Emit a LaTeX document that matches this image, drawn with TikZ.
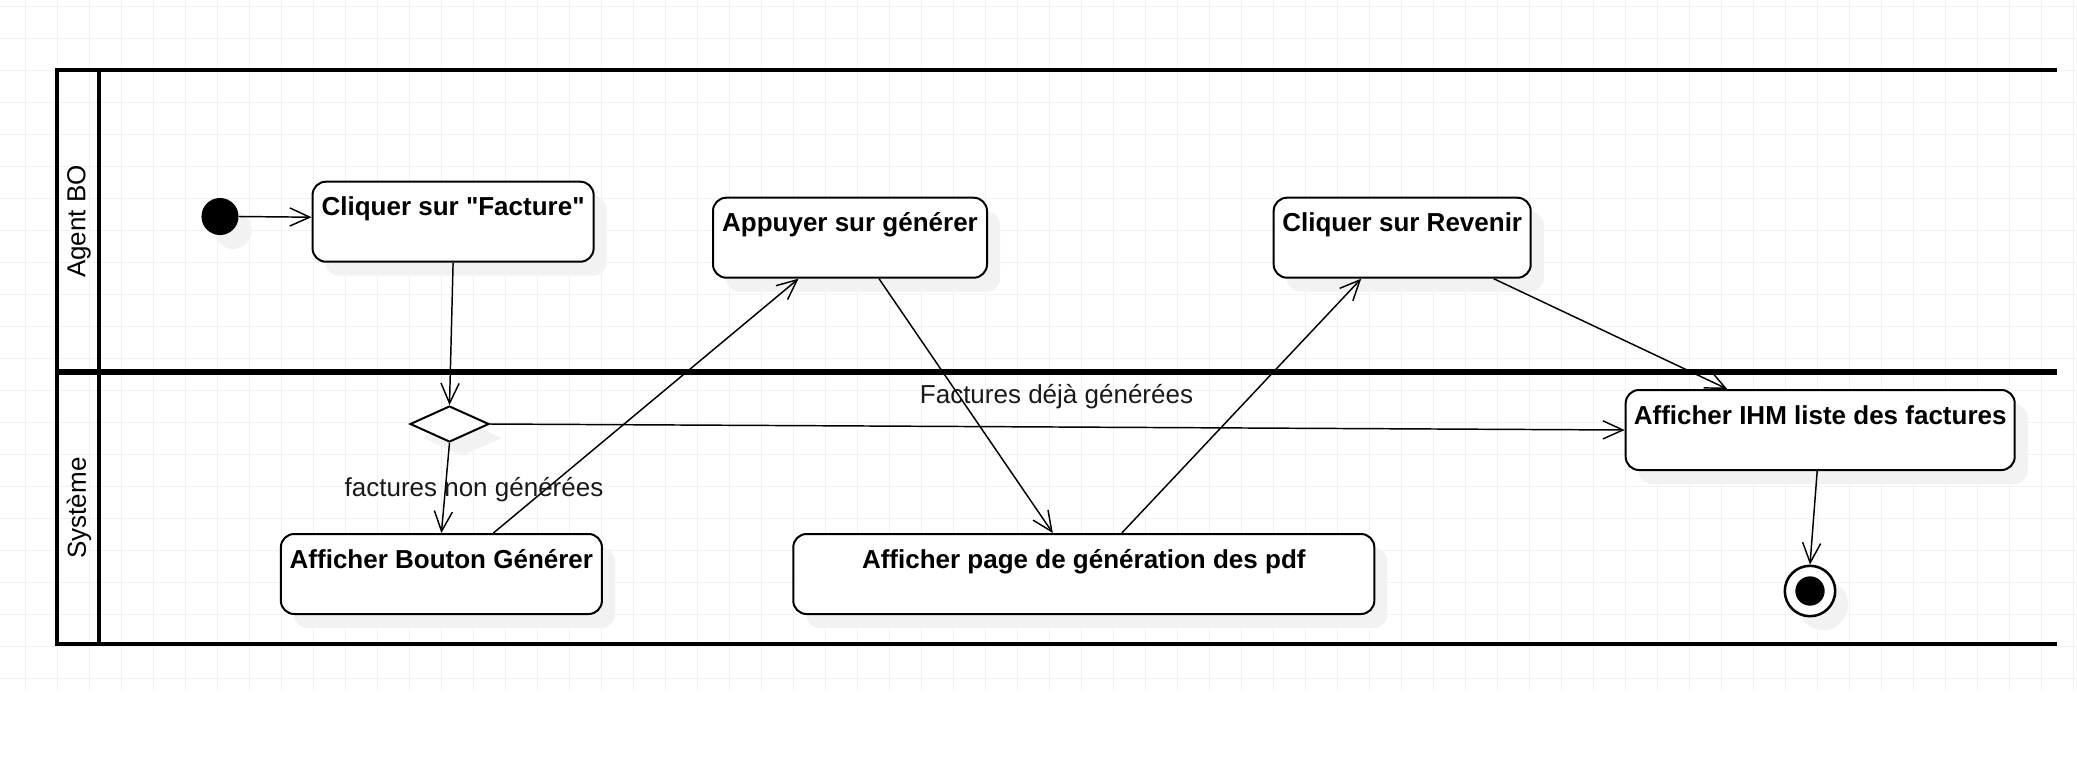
\documentclass[tikz,border=0pt]{standalone}
\usepackage{fontspec}
\setmainfont{Liberation Sans}[Ligatures=TeXOff]
\usetikzlibrary{arrows.meta,calc,shapes.geometric,shadows}
\begin{document}
\begin{tikzpicture}[x=0.375pt,y=-0.375pt,
  font=\fontsize{9.75}{11.7}\selectfont,
  shad/.style={general shadow={fill=black!5,shadow xshift=4.9pt,shadow yshift=-5.25pt}},
  actbox/.style={draw=black,line width=0.75pt,rounded corners=5pt,fill=white,shad,
    inner xsep=0pt,inner ysep=0pt,text height=12.75pt,text depth=17.25pt,
    font=\fontsize{9.75}{11.7}\selectfont\bfseries},
  decis/.style={diamond,draw=black,line width=0.75pt,fill=white,shad,inner sep=0pt,
    minimum width=29.6pt,minimum height=13.5pt},
  startdot/.style={circle,fill=black,inner sep=0pt,minimum size=13.9pt,shad},
  endring/.style={circle,draw=black,line width=0.95pt,fill=white,inner sep=0pt,minimum size=18.9pt,shad},
  enddot/.style={circle,fill=black,inner sep=0pt,minimum size=11pt},
  flow/.style={draw=black,line width=0.55pt,-{Straight Barb[length=7.5pt,width=6.8pt]}},
  lanelabel/.style={rotate=90,inner sep=0pt},
  edgelabel/.style={anchor=base,inner sep=0pt,text=black!90},
  gridline/.style={draw=black!5,line width=0.375pt},
  frameline/.style={draw=black,line width=1.5pt,line join=miter},
  dividerline/.style={draw=black,line width=2pt}
]
\useasboundingbox (0,0) rectangle (2077,772);
% background grid
\foreach \i in {0,...,64} \draw[gridline] ({25.7+32*\i},0) -- ({25.7+32*\i},690);
\foreach \j in {0,...,21} \draw[gridline] (0,{6+32*\j}) -- (2077,{6+32*\j});

% swimlane frame
\draw[frameline] (2057,70) -- (57,70) -- (57,644) -- (2057,644);
\draw[frameline] (99,70) -- (99,644);
\draw[dividerline] (57,372) -- (2057,372);
\node[lanelabel] (laneA) at (79,221.5) {Agent BO};
\node[lanelabel] (laneS) at (79,508) {Système};

% nodes
\node[startdot] (init) at (220,216.5) {};
\node[actbox,minimum width=105.4pt] (cliq) at (453.1,221.7) {Cliquer sur "Facture"};
\node[actbox,minimum width=102.75pt] (appuyer) at (850,237.7) {Appuyer sur générer};
\node[actbox,minimum width=96.4pt] (revenir) at (1402.2,237.7) {Cliquer sur Revenir};
\node[decis] (dia) at (449.5,424) {};
\node[actbox,minimum width=145.9pt] (ihm) at (1820.2,430) {Afficher IHM liste des factures};
\node[actbox,minimum width=120.4pt] (bouton) at (441.4,574) {Afficher Bouton Générer};
\node[actbox,minimum width=217.9pt] (pdf) at (1083.8,574) {Afficher page de génération des pdf};
\node[endring] (final) at (1810,591) {};
\node[enddot] (finalin) at (1810,591) {};

% connectors
\draw[flow] (init.east) -- ($(cliq.west)+(0,-4.5)$);
\draw[flow] (cliq.south) -- (dia.north);
\draw[flow] (dia.south) -- (bouton.north);
\draw[flow] (dia.east) -- (ihm.west);
\draw[flow] ($(bouton.north)+(52,0)$) -- ($(appuyer.south)+(-51.5,0)$);
\draw[flow] ($(appuyer.south)+(29,0)$) -- ($(pdf.north)+(-31,0)$);
\draw[flow] ($(pdf.north)+(38,0)$) -- ($(revenir.south)+(-41,0)$);
\draw[flow] ($(revenir.south)+(91.5,0)$) -- ($(ihm.north)+(-93,0)$);
\draw[flow] ($(ihm.south)+(-3,0)$) -- (final.north);

% edge labels
\node[edgelabel] (lbldeja) at (1056.5,403) {Factures déjà générées};
\node[edgelabel] (lblnon) at (474,496) {factures non générées};
\end{tikzpicture}
\end{document}
